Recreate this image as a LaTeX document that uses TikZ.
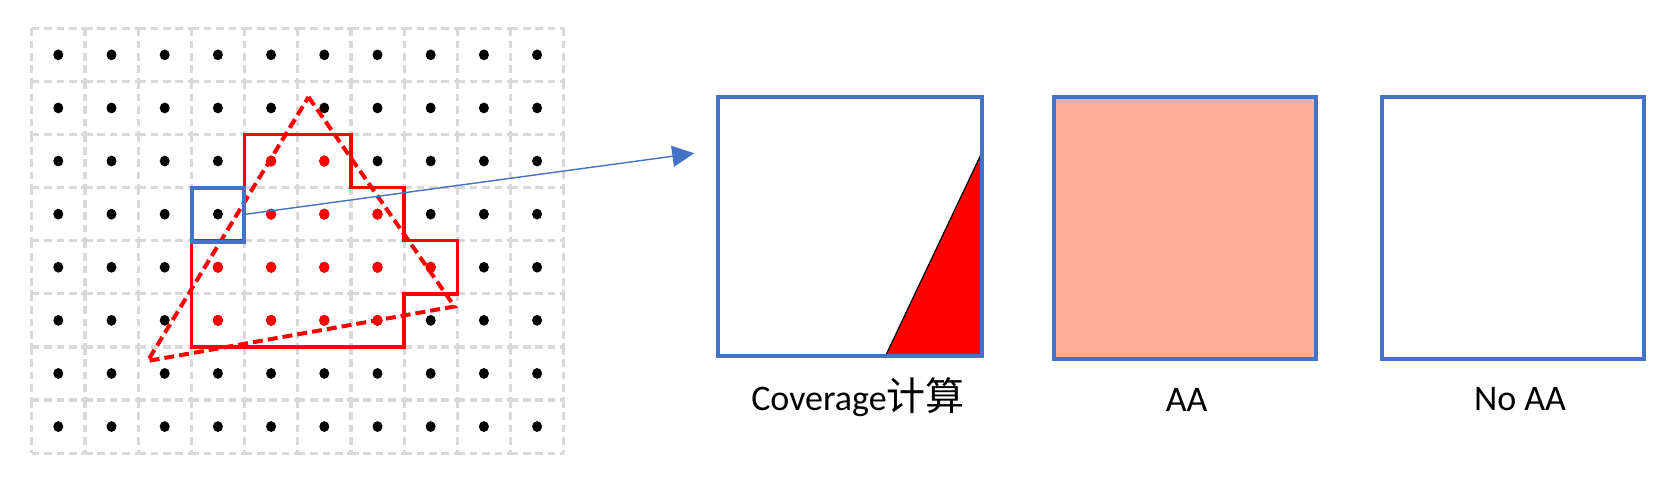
\documentclass[tikz,border=0pt]{standalone}
\usepackage{fontspec}
\setmainfont{Carlito}
\newfontfamily\cjk{Noto Sans CJK SC}
\usetikzlibrary{arrows.meta}
\definecolor{boxblue}{HTML}{4472C4}
\definecolor{salmon}{HTML}{FFAE9B}
\definecolor{gridgrey}{HTML}{D9D9D9}
\definecolor{pxred}{HTML}{FF0000}
\tikzset{
  gridline/.style={draw=gridgrey, line width=1.6pt, dash pattern=on 3.8pt off 2.4pt},
  blackdot/.style={fill=black},
  reddot/.style={fill=pxred},
  covered/.style={draw=pxred, line width=1.7pt, line join=miter},
  tri/.style={draw=pxred, line width=2pt, dash pattern=on 5pt off 2.5pt, line join=miter},
  pixsel/.style={draw=boxblue, line width=2pt, rectangle, inner sep=0pt, outer sep=0pt},
  bigbox/.style={draw=boxblue, line width=2pt, rectangle, inner sep=0pt, outer sep=0pt},
  lbl/.style={inner sep=0pt, anchor=base, font=\fontsize{18pt}{22pt}\selectfont},
  link/.style={draw=boxblue, line width=0.7pt, -{Triangle[length=11pt,width=10.5pt]}}
}
\begin{document}
\begin{tikzpicture}[x=0.5pt, y=-0.5pt]
\useasboundingbox (0,0) rectangle (1674,476);
% ---- sample grid ----
\begin{scope}[shift={(31.7,28.3)}, x=26.6pt, y=-26.55pt]
  \foreach \i in {0,...,9} \foreach \j in {0,...,8}
    \draw[gridline] (\i,\j) -- ++(1,0);
  \foreach \i in {0,...,10} \foreach \j in {0,...,7}
    \draw[gridline] (\i,\j) -- ++(0,1);
  \foreach \i in {0,...,9} \foreach \j in {0,...,7}
    \fill[blackdot] (\i+0.5,\j+0.5) circle[x radius=2.5pt, y radius=2.7pt];
  \foreach \i/\j in {4/2,5/2,4/3,5/3,6/3,3/4,4/4,5/4,6/4,7/4,3/5,4/5,5/5,6/5}
    \fill[reddot] (\i+0.5,\j+0.5) circle[x radius=2.6pt, y radius=2.8pt];
  \draw[covered] (4,2) -- (6,2) -- (6,3) -- (7,3) -- (7,4) -- (8,4) -- (8,5)
    -- (7,5) -- (7,6) -- (3,6) -- (3,4) -- (4,4) -- cycle;
  \draw[tri] (5.203,1.294) -- (7.947,5.239) -- (2.18,6.265) -- cycle;
\end{scope}
\node[pixsel, minimum width=26pt, minimum height=27pt] (pix) at (218,214.5) {};
% ---- coverage box ----
\fill[pxred] (885.5,356) -- (982.3,151.7) -- (982.3,356) -- cycle;
\draw[black, line width=0.6pt] (885.5,356) -- (982.3,151.7);
\node[bigbox, minimum width=132.15pt, minimum height=129.65pt] (cov) at (850.2,226.3) {};
\node[bigbox, fill=salmon, minimum width=131.3pt, minimum height=131.15pt] (aa) at (1185,227.9) {};
\node[bigbox, minimum width=131pt, minimum height=131.15pt] (noaa) at (1513,227.9) {};
% ---- labels ----
\node[lbl] (covlbl) at (858,410) {Coverage{\fontsize{19.5pt}{22pt}\selectfont\cjk 计算}};
\node[lbl] (aalbl) at (1186.7,411) {AA};
\node[lbl] (noaalbl) at (1520,410) {No AA};
% ---- arrow ----
\coordinate (tip) at (694.3,153.3);
\draw[link] (pix.east) -- (tip);
\end{tikzpicture}
\end{document}
